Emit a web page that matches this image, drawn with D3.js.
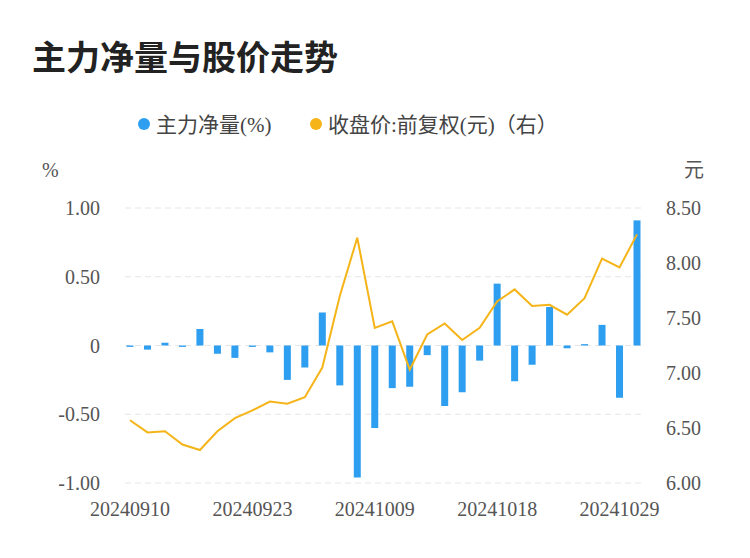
<!DOCTYPE html>
<html><head><meta charset="utf-8">
<script src="https://cdn.jsdelivr.net/npm/d3@7"></script>
<style>body{margin:0;background:#fff}text{font-family:"Liberation Serif","Noto Sans CJK SC",serif}</style>
</head><body><svg id="c" width="750" height="558"></svg>
<script>
const dates=["20240910","20240911","20240912","20240913","20240918","20240919","20240920","20240923","20240924","20240925","20240926","20240927","20240930","20241008","20241009","20241010","20241011","20241014","20241015","20241016","20241017","20241018","20241021","20241022","20241023","20241024","20241025","20241028","20241029","20241030"];
const flow=[-0.01,-0.03,0.02,-0.01,0.12,-0.06,-0.09,-0.01,-0.05,-0.25,-0.16,0.24,-0.29,-0.96,-0.60,-0.31,-0.30,-0.07,-0.44,-0.34,-0.11,0.45,-0.26,-0.14,0.28,-0.02,0.01,0.15,-0.38,0.91];
const price=[6.57,6.46,6.47,6.35,6.30,6.47,6.59,6.66,6.74,6.72,6.78,7.05,7.70,8.23,7.41,7.47,7.03,7.35,7.45,7.30,7.41,7.65,7.76,7.61,7.62,7.53,7.68,8.04,7.96,8.26];
const leftTicks=[1,0.5,0,-0.5,-1], leftLabels=["1.00","0.50","0","-0.50","-1.00"];
const rightTicks=[8.5,8,7.5,7,6.5,6];
const labelIdx=[0,7,14,21,28];
const svg=d3.select("#c");
svg.append("text").attr("x",32).attr("y",70).attr("font-size",34).attr("font-weight","bold").attr("fill","#222").style("font-family","Noto Sans CJK SC").text("主力净量与股价走势");
const x=d3.scalePoint().domain(d3.range(dates.length)).range([130,637]);
const yL=d3.scaleLinear().domain([-1,1]).range([483,208]);
const yR=d3.scaleLinear().domain([6,8.5]).range([483,208]);
svg.append("g").selectAll("line").data(leftTicks).join("line").attr("x1",125).attr("x2",642).attr("y1",d=>yL(d)).attr("y2",d=>yL(d)).attr("stroke","#e6e6e6").attr("stroke-dasharray","6,4");
svg.append("g").selectAll("text").data(leftTicks).join("text").attr("x",100).attr("y",d=>yL(d)+7).attr("text-anchor","end").attr("font-size",20).attr("fill","#555").text((d,i)=>leftLabels[i]);
svg.append("g").selectAll("text").data(rightTicks).join("text").attr("x",666).attr("y",d=>yR(d)+7).attr("font-size",20).attr("fill","#555").text(d=>d.toFixed(2));
svg.append("g").selectAll("text").data(labelIdx).join("text").attr("x",d=>x(d)).attr("y",516).attr("text-anchor","middle").attr("font-size",20).attr("fill","#555").text(d=>dates[d]);
svg.append("text").attr("x",42).attr("y",177).attr("font-size",20).attr("fill","#555").text("%");
svg.append("text").attr("x",684).attr("y",177).attr("font-size",20).attr("fill","#555").style("font-family","Noto Sans CJK SC").text("元");
svg.append("g").selectAll("rect").data(flow).join("rect").attr("x",(d,i)=>x(i)-3.5).attr("width",7)
 .attr("y",d=>Math.min(yL(d),yL(0))).attr("height",d=>Math.max(1,Math.abs(yL(d)-yL(0)))).attr("fill","#2e9ef0");
svg.append("path").datum(price).attr("fill","none").attr("stroke","#f5b418").attr("stroke-width",2)
 .attr("d",d3.line().x((d,i)=>x(i)).y(d=>yR(d)));
const lg=svg.append("g").style("font-family","Noto Sans CJK SC");
lg.append("circle").attr("cx",144).attr("cy",124).attr("r",6).attr("fill","#2e9ef0");
lg.append("text").attr("x",156).attr("y",132).attr("font-size",21).attr("fill","#444").text("主力净量(%)");
lg.append("circle").attr("cx",316).attr("cy",124).attr("r",6).attr("fill","#f5b418");
lg.append("text").attr("x",328).attr("y",132).attr("font-size",21).attr("fill","#444").text("收盘价:前复权(元)（右）");
</script></body></html>
